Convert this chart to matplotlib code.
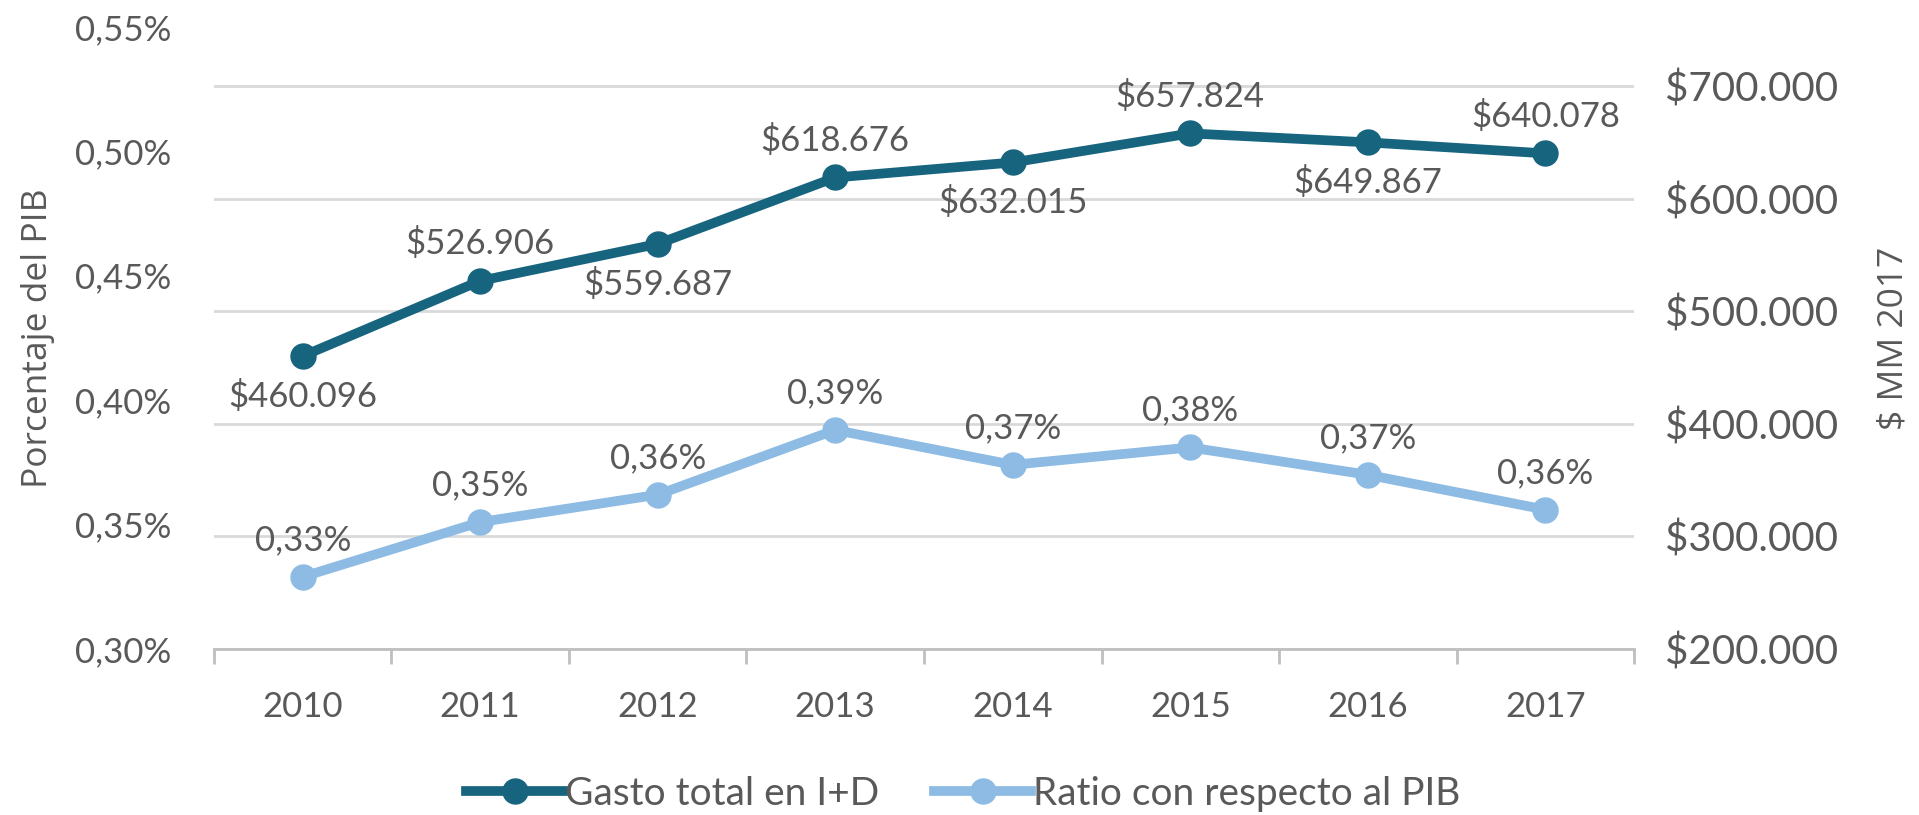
import matplotlib.pyplot as plt
import matplotlib.ticker as mticker
from matplotlib.lines import Line2D

anios = ["2010", "2011", "2012", "2013", "2014", "2015", "2016", "2017"]
gasto = [460096, 526906, 559687, 618676, 632015, 657824, 649867, 640078]
ratio = [0.329, 0.351, 0.362, 0.388, 0.374, 0.381, 0.370, 0.356]
pos_gasto = ["abajo", "arriba", "abajo", "arriba", "abajo", "arriba", "abajo", "arriba"]

ticks_pct = [0.30, 0.35, 0.40, 0.45, 0.50, 0.55]
ticks_mm = [200000, 300000, 400000, 500000, 600000, 700000]

OSCURO = "#17647f"
CLARO = "#8dbbe3"
GRIS = "#595959"

plt.rcParams['font.family'] = ['Lato', 'DejaVu Sans']
TITULOS = ['Open Sans', 'Lato']

fig = plt.figure(figsize=(19.19, 8.15), dpi=100)
ax = fig.add_axes([0.1115, 0.2037, 0.74, 0.7633])
ax2 = ax.twinx()

x = list(range(len(anios)))

# eje derecho: gasto en $ MM (lleva la grilla)
ax2.set_ylim(200000, 752400)
ax2.set_yticks(ticks_mm)
ax2.yaxis.set_major_formatter(mticker.FuncFormatter(lambda v, p: "$" + f"{v:,.0f}".replace(",", ".")))
ax2.grid(axis='y', color='#d9d9d9', linewidth=2)
ax2.tick_params(axis='y', length=0, labelsize=29, labelcolor=GRIS, pad=22)
ax2.yaxis.set_label_coords(1.171, 0.518)
ax2.set_ylabel("$ MM 2017", fontsize=25.5, color=GRIS, family=TITULOS)

# eje izquierdo: porcentaje del PIB
ax.set_ylim(0.30, 0.55)
ax.set_yticks(ticks_pct)
ax.yaxis.set_major_formatter(mticker.FuncFormatter(lambda v, p: f"{v:.2f}%".replace(".", ",")))
ax.tick_params(axis='y', length=0, labelsize=25, labelcolor=GRIS, pad=31)
ax.yaxis.set_label_coords(-0.112, 0.506)
ax.set_ylabel("Porcentaje del PIB", fontsize=25.5, color=GRIS, family=TITULOS)

ax.set_xlim(-0.5, len(anios) - 0.5)
ax.set_xticks(x)
ax.set_xticklabels(anios)
ax.set_xticks([i - 0.5 for i in range(len(anios) + 1)], minor=True)
ax.tick_params(axis='x', which='major', length=0, labelsize=25, labelcolor=GRIS, pad=30)
ax.tick_params(axis='x', which='minor', length=11, width=2, color='#bfbfbf')

for a in (ax, ax2):
    for s in ['top', 'left', 'right']:
        a.spines[s].set_visible(False)
ax2.spines['bottom'].set_visible(False)
ax.spines['bottom'].set_color('#bfbfbf')
ax.spines['bottom'].set_linewidth(2)

# eje izquierdo arriba para que la grilla quede bajo ambas lineas
ax.set_zorder(2)
ax2.set_zorder(1)
ax.patch.set_visible(False)

ax2.plot(x, gasto, color=OSCURO, lw=7, marker='o', ms=18)
ax.plot(x, ratio, color=CLARO, lw=7, marker='o', ms=18)

for i, g in enumerate(gasto):
    txt = "$" + f"{g:,}".replace(",", ".")
    if pos_gasto[i] == "arriba":
        ax2.annotate(txt, (i, g), xytext=(0, 15), textcoords='offset points',
                     ha='center', va='bottom', fontsize=25, color=GRIS)
    else:
        ax2.annotate(txt, (i, g), xytext=(0, -17), textcoords='offset points',
                     ha='center', va='top', fontsize=25, color=GRIS)

for i, r in enumerate(ratio):
    txt = f"{r:.2f}%".replace(".", ",")
    ax.annotate(txt, (i, r), xytext=(0, 15), textcoords='offset points',
                ha='center', va='bottom', fontsize=25, color=GRIS)

h1 = Line2D([], [], color=OSCURO, lw=7, marker='o', ms=18)
h2 = Line2D([], [], color=CLARO, lw=7, marker='o', ms=18)
fig.legend([h1, h2], ["Gasto total en I+D", "Ratio con respecto al PIB"],
           loc='center', bbox_to_anchor=(0.502, 0.026), ncol=2, frameon=False,
           fontsize=28, labelcolor=GRIS, handlelength=2.5, handletextpad=0.05,
           columnspacing=1.4)

fig.savefig("out.png", dpi=100)
